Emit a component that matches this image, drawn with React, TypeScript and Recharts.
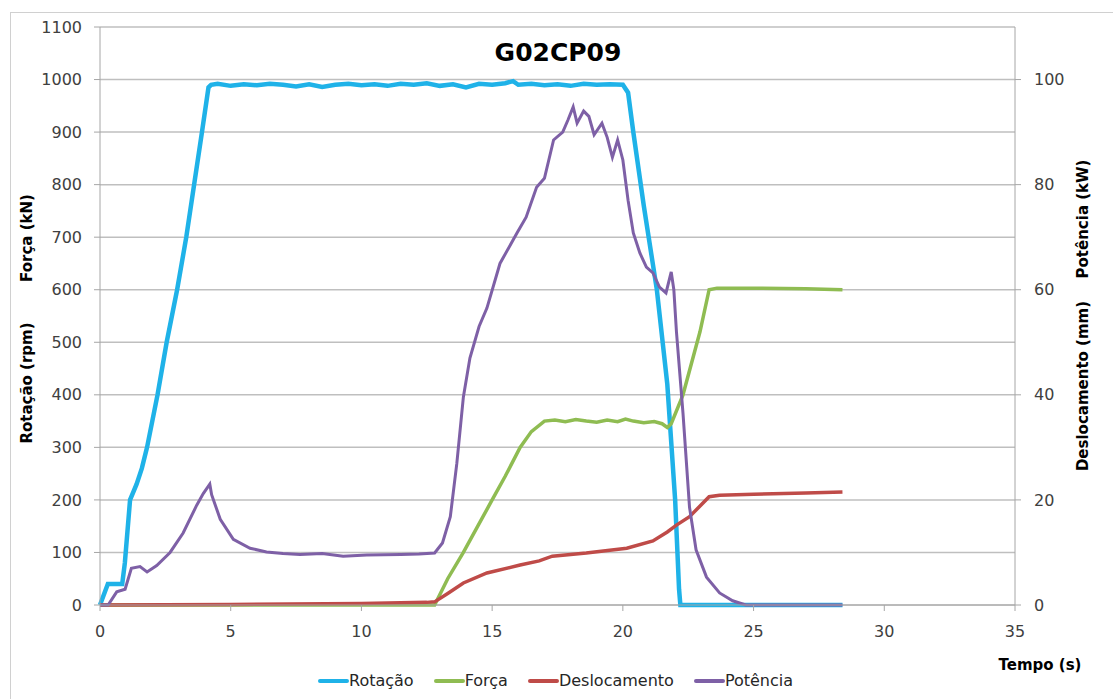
import { LineChart, Line, XAxis, YAxis, CartesianGrid } from "recharts";

// tempo (s), valor
const rotacao: [number, number][] = [
  [0, 0], [0.3, 40], [0.85, 40], [0.95, 80], [1.15, 200], [1.4, 230], [1.6, 260],
  [1.8, 300], [2.0, 350], [2.2, 400], [2.55, 500], [2.95, 600], [3.3, 700],
  [3.6, 800], [3.9, 900], [4.15, 985], [4.25, 990], [4.5, 992], [5, 988],
  [5.5, 991], [6, 989], [6.5, 992], [7, 990], [7.5, 987], [8, 991], [8.5, 986],
  [9, 990], [9.5, 992], [10, 989], [10.5, 991], [11, 988], [11.5, 992], [12, 990],
  [12.5, 993], [13, 988], [13.5, 991], [14, 985], [14.5, 992], [15, 990],
  [15.5, 993], [15.8, 997], [16, 990], [16.5, 992], [17, 989], [17.5, 991],
  [18, 988], [18.5, 992], [19, 990], [19.5, 991], [20, 990], [20.2, 975],
  [20.4, 900], [20.8, 760], [21.3, 600], [21.7, 420], [22.0, 200], [22.15, 30],
  [22.2, 0], [28.4, 0],
];

const forca: [number, number][] = [
  [0, 0], [12.8, 0], [13.3, 50], [13.9, 100], [14.45, 150], [15.0, 200],
  [15.5, 245], [16.07, 300], [16.5, 330], [17.0, 350], [17.4, 352], [17.8, 349],
  [18.2, 353], [18.6, 350], [19.0, 348], [19.4, 352], [19.8, 349], [20.1, 354],
  [20.4, 350], [20.8, 347], [21.2, 349], [21.5, 345], [21.7, 338], [21.85, 345],
  [22.3, 400], [22.95, 520], [23.3, 600], [23.6, 603], [25, 603], [27, 602],
  [28.4, 600],
];

const deslocamento: [number, number][] = [
  [0, 0], [5, 0.1], [10, 0.3], [12.5, 0.5], [12.8, 0.6], [13.3, 2.2],
  [13.9, 4.2], [14.8, 6.1], [16.07, 7.6], [16.8, 8.4], [17.3, 9.3], [18.6, 9.9],
  [20.15, 10.8], [21.15, 12.2], [21.7, 13.9], [22.05, 15.2], [22.55, 16.8],
  [23.3, 20.6], [23.7, 20.9], [25, 21.1], [27, 21.3], [28.4, 21.5],
];

const potencia: [number, number][] = [
  [0, 0], [0.31, 0], [0.64, 2.5], [0.96, 3.0], [1.2, 7.0], [1.53, 7.3],
  [1.8, 6.3], [2.17, 7.5], [2.68, 10.0], [3.18, 13.7], [3.7, 19.0], [3.95, 21.2],
  [4.2, 23.0], [4.27, 21.0], [4.6, 16.3], [5.1, 12.5], [5.74, 10.8], [6.37, 10.1],
  [7.0, 9.8], [7.65, 9.6], [8.5, 9.8], [9.3, 9.3], [10.2, 9.5], [11.5, 9.6],
  [12.2, 9.7], [12.8, 9.9], [13.1, 11.8], [13.4, 16.8], [13.65, 27.0],
  [13.9, 39.6], [14.15, 47.0], [14.5, 53.0], [14.8, 56.5], [15.3, 65.0],
  [15.95, 70.8], [16.3, 73.8], [16.7, 79.5], [17.0, 81.2], [17.35, 88.5],
  [17.7, 90.0], [17.9, 92.3], [18.1, 94.8], [18.25, 91.7], [18.5, 94.0],
  [18.7, 93.0], [18.9, 89.5], [19.2, 91.7], [19.4, 89.0], [19.6, 85.2],
  [19.8, 88.5], [20.0, 84.7], [20.2, 77.0], [20.4, 70.8], [20.65, 67.0],
  [20.9, 64.3], [21.15, 63.2], [21.4, 60.5], [21.65, 59.4], [21.85, 63.4],
  [21.95, 60.0], [22.05, 52.0], [22.3, 36.5], [22.55, 18.6], [22.8, 10.5],
  [23.2, 5.3], [23.7, 2.3], [24.2, 0.8], [24.7, 0], [28.4, 0],
];

const xTicks = [0, 5, 10, 15, 20, 25, 30, 35];
const leftTicks = [0, 100, 200, 300, 400, 500, 600, 700, 800, 900, 1000, 1100];
const rightTicks = [0, 20, 40, 60, 80, 100];

const toRows = (pts: [number, number][]) => pts.map(([t, v]) => ({ t, v }));

const FONT = "'DejaVu Sans', sans-serif";
const tickStyle = { fill: "#404040", fontSize: 16, fontFamily: FONT };

const series = [
  { name: "Rotação", data: rotacao, color: "#1FB2E8", width: 4.5, axis: "left" },
  { name: "Força", data: forca, color: "#8FBC52", width: 3.5, axis: "left" },
  { name: "Deslocamento", data: deslocamento, color: "#BF4B48", width: 3.5, axis: "right" },
  { name: "Potência", data: potencia, color: "#7E60A6", width: 3, axis: "right" },
];

function AxisTitle({ x, y, text }: { x: number; y: number; text: string }) {
  return (
    <div
      style={{
        position: "absolute",
        left: x,
        top: y,
        transform: "translate(-50%, -50%) rotate(-90deg)",
        whiteSpace: "nowrap",
        fontFamily: FONT,
        fontWeight: "bold",
        fontSize: 15,
        color: "#000",
      }}
    >
      {text}
    </div>
  );
}

export default function App() {
  return (
    <div
      style={{
        position: "absolute",
        left: 0,
        top: 0,
        width: 1113,
        height: 699,
        background: "#fff",
        overflow: "hidden",
      }}
    >
      <div
        style={{
          position: "absolute",
          left: 10,
          top: 12,
          width: 1200,
          height: 800,
          border: "1px solid #d0d0d0",
        }}
      />
      <div style={{ position: "absolute", left: 0, top: 0 }}>
        <LineChart width={1113} height={699} margin={{ top: 27, right: 0, bottom: 54, left: 0 }}>
          <CartesianGrid yAxisId="left" vertical={false} stroke="#bfbfbf" strokeWidth={1.5} />
          <XAxis
            dataKey="t"
            type="number"
            domain={[0, 35]}
            ticks={xTicks}
            interval={0}
            height={40}
            tickSize={6}
            tickMargin={15}
            tick={tickStyle}
            stroke="#a6a6a6"
            allowDuplicatedCategory={false}
          />
          <YAxis
            yAxisId="left"
            domain={[0, 1100]}
            ticks={leftTicks}
            interval={0}
            width={100}
            tickSize={6}
            tickMargin={12}
            tick={tickStyle}
            stroke="#a6a6a6"
          />
          <YAxis
            yAxisId="right"
            orientation="right"
            domain={[0, 110]}
            ticks={rightTicks}
            interval={0}
            width={98}
            tickSize={6}
            tickMargin={13}
            tick={tickStyle}
            stroke="#a6a6a6"
          />
          {series.map((s) => (
            <Line
              key={s.name}
              yAxisId={s.axis}
              data={toRows(s.data)}
              dataKey="v"
              name={s.name}
              type="linear"
              stroke={s.color}
              strokeWidth={s.width}
              dot={false}
              isAnimationActive={false}
            />
          ))}
        </LineChart>
      </div>

      <div
        style={{
          position: "absolute",
          left: 558,
          top: 52,
          transform: "translate(-50%, -50%)",
          fontFamily: FONT,
          fontWeight: "bold",
          fontSize: 25,
          color: "#000",
        }}
      >
        G02CP09
      </div>

      <AxisTitle x={27} y={238} text="Força (kN)" />
      <AxisTitle x={27} y={383} text="Rotação (rpm)" />
      <AxisTitle x={1083} y={219} text="Potência (kW)" />
      <AxisTitle x={1083} y={386} text="Deslocamento (mm)" />

      <div
        style={{
          position: "absolute",
          left: 1040,
          top: 665,
          transform: "translate(-50%, -50%)",
          fontFamily: FONT,
          fontWeight: "bold",
          fontSize: 15,
          color: "#000",
          whiteSpace: "nowrap",
        }}
      >
        Tempo (s)
      </div>

      <div
        style={{
          position: "absolute",
          left: 318,
          top: 671,
          display: "flex",
          alignItems: "center",
          fontFamily: FONT,
          fontSize: 16,
          color: "#262626",
          whiteSpace: "nowrap",
        }}
      >
        {series.map((s) => (
          <div key={s.name} style={{ display: "flex", alignItems: "center", marginRight: 20 }}>
            <div style={{ width: 31, height: 4, background: s.color, borderRadius: 2 }} />
            <span>{s.name}</span>
          </div>
        ))}
      </div>
    </div>
  );
}
